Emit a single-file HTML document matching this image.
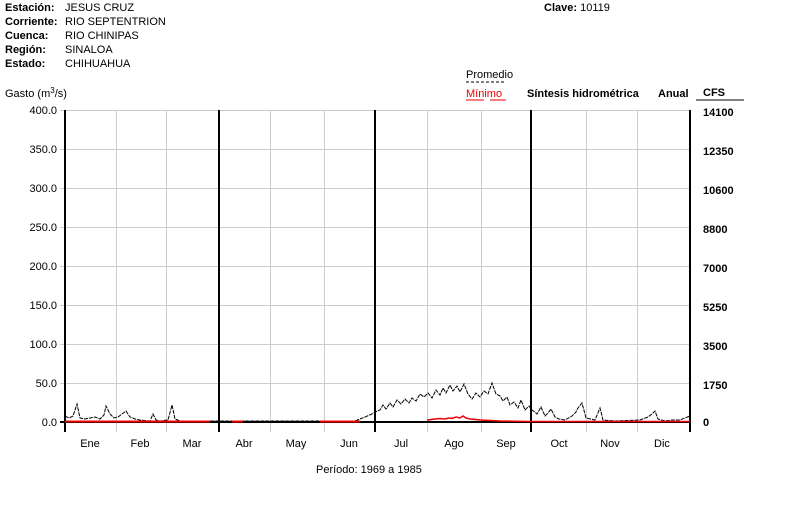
<!DOCTYPE html><html><head><style>body{margin:0;background:#fff}text{font-family:"Liberation Sans",sans-serif;font-size:11px}</style></head><body>
<svg width="794" height="509" xmlns="http://www.w3.org/2000/svg">
<g font-weight="bold"><text x="5" y="11">Estación:</text><text x="5" y="25">Corriente:</text><text x="5" y="39">Cuenca:</text><text x="5" y="53">Región:</text><text x="5" y="67">Estado:</text></g>
<text x="65" y="11">JESUS CRUZ</text><text x="65" y="25">RIO SEPTENTRION</text><text x="65" y="39">RIO CHINIPAS</text><text x="65" y="53">SINALOA</text><text x="65" y="67">CHIHUAHUA</text>
<text x="544" y="11" font-weight="bold">Clave: <tspan font-weight="normal">10119</tspan></text>
<text x="5" y="97">Gasto (m<tspan dy="-4" font-size="8">3</tspan><tspan dy="4">/s)</tspan></text>
<text x="466" y="78">Promedio</text><line x1="466" y1="82" x2="506" y2="82" stroke="#000" stroke-dasharray="3,2"/>
<text x="466" y="97" fill="#e00">Mínimo</text><line x1="466" y1="100" x2="484" y2="100" stroke="#e00"/><line x1="490" y1="100" x2="506" y2="100" stroke="#e00"/>
<text x="527" y="97" font-weight="bold">Síntesis hidrométrica</text><text x="658" y="97" font-weight="bold">Anual</text><text x="703" y="96" font-weight="bold">CFS</text>
<line x1="696" y1="100" x2="744" y2="100" stroke="#000"/>
<g stroke="#ccc"><line x1="60" y1="110.5" x2="690" y2="110.5"/><line x1="60" y1="149.5" x2="690" y2="149.5"/><line x1="60" y1="188.5" x2="690" y2="188.5"/><line x1="60" y1="227.5" x2="690" y2="227.5"/><line x1="60" y1="266.5" x2="690" y2="266.5"/><line x1="60" y1="305.5" x2="690" y2="305.5"/><line x1="60" y1="344.5" x2="690" y2="344.5"/><line x1="60" y1="383.5" x2="690" y2="383.5"/>
<line x1="116.5" y1="110" x2="116.5" y2="432"/><line x1="166.5" y1="110" x2="166.5" y2="432"/><line x1="270.5" y1="110" x2="270.5" y2="432"/><line x1="324.5" y1="110" x2="324.5" y2="432"/><line x1="427.5" y1="110" x2="427.5" y2="432"/><line x1="481.5" y1="110" x2="481.5" y2="432"/><line x1="586.5" y1="110" x2="586.5" y2="432"/><line x1="637.5" y1="110" x2="637.5" y2="432"/></g>
<line x1="60" y1="422" x2="690" y2="422" stroke="#000" stroke-width="2"/>
<g stroke="#000" stroke-width="2"><line x1="65" y1="110" x2="65" y2="432"/><line x1="219" y1="110" x2="219" y2="432"/><line x1="375" y1="110" x2="375" y2="432"/><line x1="531" y1="110" x2="531" y2="432"/><line x1="690" y1="110" x2="690" y2="432"/></g>
<g text-anchor="end"><text x="57" y="114">400.0</text><text x="57" y="153">350.0</text><text x="57" y="192">300.0</text><text x="57" y="231">250.0</text><text x="57" y="270">200.0</text><text x="57" y="309">150.0</text><text x="57" y="348">100.0</text><text x="57" y="387">50.0</text><text x="57" y="426">0.0</text></g>
<g font-weight="bold"><text x="703" y="116">14100</text><text x="703" y="155">12350</text><text x="703" y="194">10600</text><text x="703" y="233">8800</text><text x="703" y="272">7000</text><text x="703" y="311">5250</text><text x="703" y="350">3500</text><text x="703" y="389">1750</text><text x="703" y="426">0</text></g>
<g text-anchor="middle"><text x="90" y="447">Ene</text><text x="140" y="447">Feb</text><text x="192" y="447">Mar</text><text x="244" y="447">Abr</text><text x="296" y="447">May</text><text x="349" y="447">Jun</text><text x="401" y="447">Jul</text><text x="454" y="447">Ago</text><text x="506" y="447">Sep</text><text x="559" y="447">Oct</text><text x="610" y="447">Nov</text><text x="662" y="447">Dic</text></g>
<text x="316" y="473">Período:  1969 a 1985</text>
<polyline fill="none" stroke="#000" stroke-width="1" stroke-dasharray="4,1" points="65,416 69,418 73,416 77,404 80,418 85,419 90,418 95,417 100,419 104,415 106,406 110,414 114,418 118,417 122,414 126,411 130,417 135,419 140,420 150,421 153,414 156,420 160,421 168,420 172,405 175,419 180,421 200,421 219,421 355,421 360,419 365,417 372,414 375,412 380,410 383,405 386,409 390,403 393,407 397,400 401,404 405,399 409,403 412,398 416,401 420,394 424,397 428,393 432,398 436,390 440,395 443,388 446,393 450,385 453,391 457,386 460,392 464,384 468,394 472,399 476,393 480,397 484,391 488,394 492,383 496,394 500,396 503,401 507,397 510,405 514,402 518,408 521,400 525,410 529,406 531,409 537,414 541,407 545,416 548,413 551,409 555,417 559,419 565,420 572,416 576,412 578,408 582,403 586,418 595,420 600,408 603,420 615,421 640,420 648,417 652,414 655,411 658,419 665,421 672,420 680,420 685,418 690,416"/>
<polyline fill="none" stroke="#e00" stroke-width="2" points="65,421.5 210,421.5"/>
<polyline fill="none" stroke="#e00" stroke-width="1.5" points="427,420 435,419 440,418.5 445,419 449,418 452,418.5 456,417 460,418 463,416 466,418 470,419 480,420 500,421 531,421.5 690,421.5"/>
<line x1="232" y1="421.5" x2="243" y2="421.5" stroke="#e00" stroke-width="2"/>
<line x1="320" y1="421.5" x2="360" y2="421.5" stroke="#e00" stroke-width="2"/>
</svg></body></html>
